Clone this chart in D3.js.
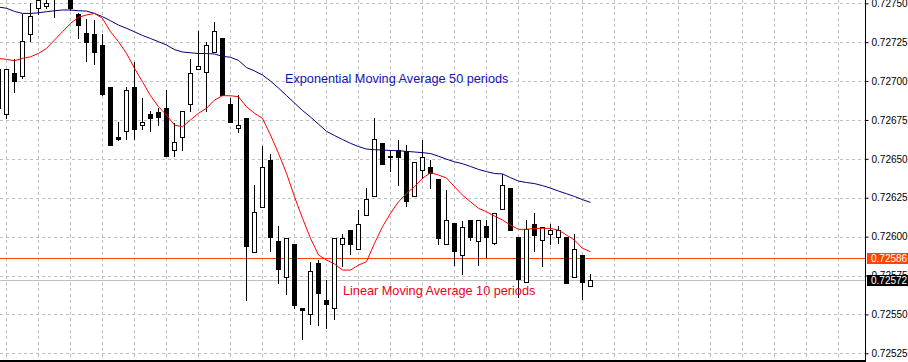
<!DOCTYPE html>
<html>
<head>
<meta charset="utf-8">
<script src="https://cdn.jsdelivr.net/npm/d3@7"></script>
<style>
  body { margin: 0; background: #fff; }
  svg { display: block; }
  .axis text { font-family: "Liberation Sans", Arial, sans-serif; font-size: 10px; fill: #000; }
  .note { font-family: "Liberation Sans", Arial, sans-serif; font-size: 12.7px; }
</style>
</head>
<body>
<div id="chart"></div>
<script>
// bars from the one half cut off at the left edge up to the current bar
var opens  = [0.72708,0.72679,0.72705,0.72703,0.72730,0.72747,0.72748,0.72758,0.72756,0.72758,
              0.72743,0.72731,0.72730,0.72723,0.72696,0.72664,0.72668,0.72696,0.72672,0.72679,
              0.72680,0.72683,0.72656,0.72664,0.72685,0.72708,0.72706,0.72719,0.72728,0.72685,
              0.72670,0.72676,0.72590,0.72619,0.72649,0.72597,0.72574,0.72595,0.72554,0.72550,
              0.72583,0.72559,0.72554,0.72595,0.72604,0.72592,0.72614,0.72626,0.72660,0.72651,
              0.72656,0.72655,0.72626,0.72643,0.72645,0.72637,0.72595,0.72609,0.72588,0.72611,
              0.72597,0.72607,0.72596,0.72618,0.72631,0.72600,0.72571,0.72608,0.72598,0.72602,
              0.72600,0.72600,0.72574,0.72588,0.72568];
var highs  = [0.72710,0.72708,0.72714,0.72743,0.72750,0.72754,0.72753,0.72760,0.72765,0.72760,
              0.72744,0.72740,0.72739,0.72730,0.72696,0.72674,0.72696,0.72712,0.72689,0.72681,
              0.72683,0.72694,0.72673,0.72681,0.72714,0.72732,0.72725,0.72738,0.72728,0.72689,
              0.72691,0.72676,0.72633,0.72658,0.72653,0.72607,0.72599,0.72595,0.72554,0.72584,
              0.72585,0.72572,0.72599,0.72602,0.72604,0.72617,0.72631,0.72676,0.72660,0.72656,
              0.72662,0.72659,0.72648,0.72662,0.72649,0.72637,0.72630,0.72609,0.72610,0.72611,
              0.72611,0.72611,0.72615,0.72640,0.72631,0.72600,0.72611,0.72615,0.72606,0.72608,
              0.72607,0.72600,0.72602,0.72588,0.72576];
var lows   = [0.72681,0.72676,0.72693,0.72702,0.72726,0.72743,0.72747,0.72741,0.72754,0.72746,
              0.72728,0.72713,0.72711,0.72691,0.72659,0.72662,0.72663,0.72663,0.72669,0.72668,
              0.72672,0.72652,0.72652,0.72656,0.72681,0.72708,0.72681,0.72719,0.72691,0.72674,
              0.72667,0.72559,0.72590,0.72619,0.72591,0.72570,0.72563,0.72554,0.72534,0.72544,
              0.72543,0.72541,0.72547,0.72581,0.72589,0.72592,0.72614,0.72626,0.72647,0.72642,
              0.72633,0.72620,0.72626,0.72638,0.72631,0.72595,0.72595,0.72582,0.72576,0.72598,
              0.72582,0.72587,0.72595,0.72618,0.72604,0.72561,0.72571,0.72591,0.72581,0.72595,
              0.72596,0.72570,0.72574,0.72560,0.72568];
var closes = [0.72683,0.72708,0.72700,0.72726,0.72742,0.72752,0.72750,0.72754,0.72762,0.72747,
              0.72736,0.72725,0.72719,0.72692,0.72659,0.72663,0.72694,0.72669,0.72674,0.72676,
              0.72677,0.72652,0.72661,0.72681,0.72705,0.72710,0.72723,0.72732,0.72691,0.72674,
              0.72672,0.72594,0.72616,0.72645,0.72600,0.72579,0.72599,0.72556,0.72553,0.72578,
              0.72564,0.72557,0.72599,0.72599,0.72595,0.72608,0.72624,0.72663,0.72647,0.72652,
              0.72651,0.72623,0.72648,0.72651,0.72641,0.72599,0.72611,0.72591,0.72606,0.72600,
              0.72611,0.72600,0.72615,0.72633,0.72604,0.72573,0.72605,0.72601,0.72606,0.72604,
              0.72604,0.72570,0.72592,0.72571,0.72572];

// Linear weighted MA 10 and exponential MA 50
var lwma10 = [0.727145,0.727140,0.727131,0.727146,0.727156,0.727178,0.727210,0.727264,0.727317,0.727371,
              0.727410,0.727425,0.727435,0.727403,0.727317,0.727253,0.727178,0.727082,0.726996,0.726906,
              0.726835,0.726782,0.726717,0.726706,0.726750,0.726793,0.726825,0.726878,0.726906,0.726906,
              0.726899,0.726835,0.726793,0.726760,0.726653,0.726535,0.726407,0.726256,0.726118,0.725989,
              0.725882,0.725850,0.725824,0.725785,0.725785,0.725817,0.725839,0.725957,0.726064,0.726150,
              0.726224,0.726278,0.726321,0.726375,0.726411,0.726396,0.726377,0.726321,0.726267,0.726224,
              0.726182,0.726160,0.726132,0.726107,0.726074,0.726047,0.726047,0.726053,0.726053,0.726053,
              0.726042,0.726010,0.725978,0.725925,0.725903];
var ema50  = [0.727476,0.727468,0.727448,0.727435,0.727435,0.727439,0.727446,0.727452,0.727457,0.727457,
              0.727452,0.727450,0.727435,0.727414,0.727388,0.727360,0.727339,0.727317,0.727293,0.727274,
              0.727253,0.727232,0.727202,0.727187,0.727182,0.727177,0.727177,0.727174,0.727159,0.727153,
              0.727133,0.727087,0.727065,0.727039,0.727000,0.726955,0.726907,0.726859,0.726811,0.726769,
              0.726723,0.726677,0.726650,0.726624,0.726600,0.726579,0.726563,0.726559,0.726557,0.726554,
              0.726552,0.726548,0.726544,0.726540,0.726534,0.726517,0.726498,0.726481,0.726469,0.726451,
              0.726432,0.726418,0.726406,0.726403,0.726379,0.726357,0.726348,0.726341,0.726328,0.726312,
              0.726293,0.726276,0.726258,0.726238,0.726220];

var priceTicks = [0.72525,0.72550,0.72575,0.72600,0.72625,0.72650,0.72675,0.72700,0.72725,0.72750];
var askPrice = 0.72586;
var bidPrice = 0.72572;
var emaLabel = "Exponential Moving Average 50 periods";
var lwmaLabel = "Linear Moving Average 10 periods";

var width = 908, height = 362;
var plotRight = 865, plotBottom = 361;

var bars = opens.map(function(o, i) {
    return { i: i - 1, o: o, h: highs[i], l: lows[i], c: closes[i], lw: lwma10[i], ema: ema50[i] };
});

var x = d3.scaleLinear().domain([0, 104]).range([6.5, 838.5]);
var y = d3.scaleLinear().domain([0.72525, 0.7275]).range([353.3, 3.3]);

var svg = d3.select('#chart').append('svg')
    .attr('width', width)
    .attr('height', height);

svg.append('defs').append('clipPath').attr('id', 'plot')
    .append('rect').attr('x', 0).attr('y', 0).attr('width', plotRight).attr('height', plotBottom);

var plot = svg.append('g').attr('clip-path', 'url(#plot)');

// dashed grid
plot.selectAll('.hgrid').data(priceTicks).enter().append('line')
    .attr('x1', 0).attr('x2', plotRight)
    .attr('y1', function(d) { return Math.round(y(d)) + 0.5; })
    .attr('y2', function(d) { return Math.round(y(d)) + 0.5; })
    .attr('stroke', '#c0c0c0').attr('stroke-dasharray', '3,3');

plot.selectAll('.vgrid').data(d3.range(0, 105, 4)).enter().append('line')
    .attr('x1', function(d) { return x(d); }).attr('x2', function(d) { return x(d); })
    .attr('y1', 0).attr('y2', plotBottom)
    .attr('stroke', '#c0c0c0').attr('stroke-dasharray', '3,3');

// ask / bid lines
plot.append('line')
    .attr('x1', 0).attr('x2', plotRight)
    .attr('y1', Math.round(y(askPrice)) + 0.5).attr('y2', Math.round(y(askPrice)) + 0.5)
    .attr('stroke', '#ff4500');
plot.append('line')
    .attr('x1', 0).attr('x2', plotRight)
    .attr('y1', Math.round(y(bidPrice)) + 0.5).attr('y2', Math.round(y(bidPrice)) + 0.5)
    .attr('stroke', '#c0c0c0');

// candles
var candle = plot.selectAll('.candle').data(bars).enter().append('g');

candle.append('line')
    .attr('x1', function(d) { return x(d.i); })
    .attr('x2', function(d) { return x(d.i); })
    .attr('y1', function(d) { return Math.round(y(d.h)); })
    .attr('y2', function(d) { return Math.round(y(d.l)) + 1; })
    .attr('stroke', '#000');

candle.append('rect')
    .attr('x', function(d) { return x(d.i) - 2; })
    .attr('y', function(d) { return Math.round(y(Math.max(d.o, d.c))) + 0.5; })
    .attr('width', 4)
    .attr('height', function(d) { return Math.max(1, Math.round(y(Math.min(d.o, d.c))) - Math.round(y(Math.max(d.o, d.c)))); })
    .attr('fill', function(d) { return d.c >= d.o ? '#fff' : '#000'; })
    .attr('stroke', '#000');

// moving averages
var maLine = function(key) {
    return d3.line()
        .x(function(d) { return x(d.i); })
        .y(function(d) { return y(d[key]); });
};

plot.append('path').datum(bars)
    .attr('d', maLine('ema'))
    .attr('fill', 'none').attr('stroke', '#000080').attr('stroke-width', 1);

plot.append('path').datum(bars)
    .attr('d', maLine('lw'))
    .attr('fill', 'none').attr('stroke', '#ff0000').attr('stroke-width', 1);

// labels on the chart
plot.append('text').attr('class', 'note')
    .attr('x', 285).attr('y', 83)
    .attr('fill', '#1414b4')
    .text(emaLabel);

plot.append('text').attr('class', 'note')
    .attr('x', 343).attr('y', 295)
    .attr('fill', '#f0001e')
    .text(lwmaLabel);

// price scale on the right
var yAxis = d3.axisRight(y)
    .tickValues(priceTicks)
    .tickSize(3)
    .tickPadding(3)
    .tickFormat(d3.format('.5f'));

svg.append('g').attr('class', 'axis')
    .attr('transform', 'translate(' + (plotRight + 0.5) + ',0)')
    .call(yAxis)
    .call(function(g) { g.select('.domain').remove(); });

svg.append('line')
    .attr('x1', plotRight + 0.5).attr('x2', plotRight + 0.5)
    .attr('y1', 0).attr('y2', plotBottom)
    .attr('stroke', '#000');

svg.append('line')
    .attr('x1', 0).attr('x2', plotRight + 1)
    .attr('y1', plotBottom).attr('y2', plotBottom)
    .attr('stroke', '#000').attr('stroke-width', 2);

// ask / bid price boxes
var boxes = [
    { price: askPrice, color: '#ff4500' },
    { price: bidPrice, color: '#000' }
];
var box = svg.selectAll('.pbox').data(boxes).enter().append('g').attr('class', 'axis');
box.append('rect')
    .attr('x', plotRight + 2)
    .attr('y', function(d) { return Math.round(y(d.price)) - 5; })
    .attr('width', width - plotRight - 2)
    .attr('height', 11)
    .attr('fill', function(d) { return d.color; });
box.append('text')
    .attr('x', plotRight + 6)
    .attr('y', function(d) { return y(d.price); })
    .attr('dy', '0.35em')
    .style('fill', '#fff')
    .text(function(d) { return d3.format('.5f')(d.price); });
</script>
</body>
</html>
